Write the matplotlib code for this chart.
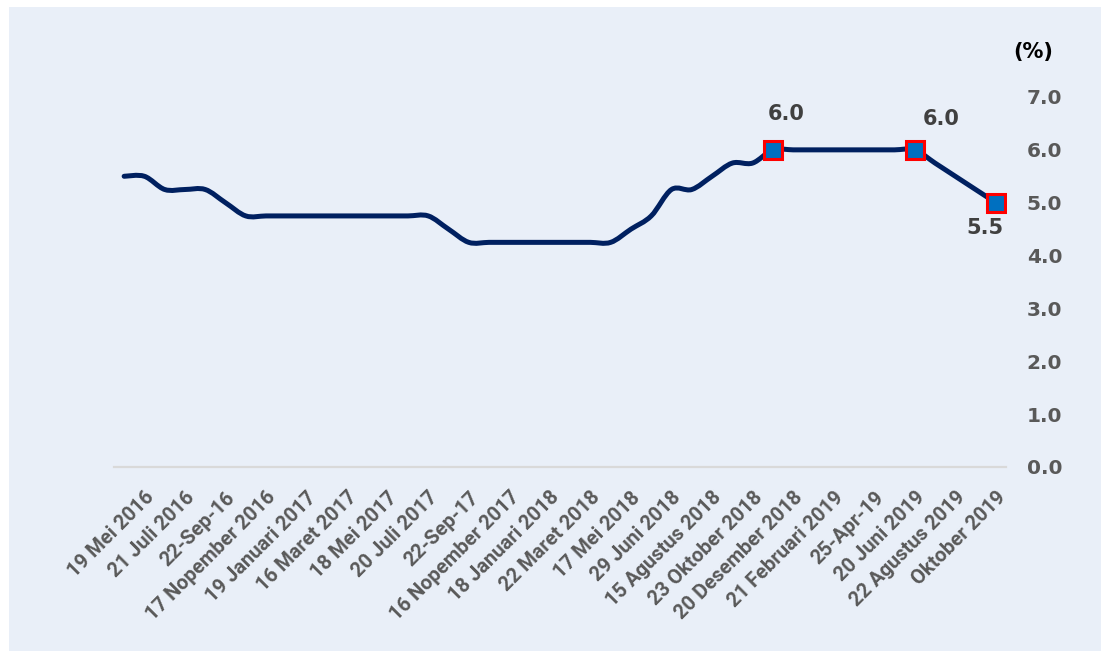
import numpy as np
import matplotlib.pyplot as plt
from matplotlib.path import Path
from matplotlib.patches import PathPatch, Rectangle

# BI 7-day reverse repo rate, one value per step on the category axis
rate = [5.50, 5.50, 5.25, 5.25, 5.25, 5.00, 4.75,
        4.75, 4.75, 4.75, 4.75, 4.75, 4.75, 4.75, 4.75, 4.75,
        4.50, 4.25,
        4.25, 4.25, 4.25, 4.25, 4.25, 4.25, 4.25,
        4.50, 4.75, 5.25, 5.25, 5.50, 5.75, 5.75,
        6.00, 6.00, 6.00, 6.00, 6.00, 6.00, 6.00, 6.00,
        5.75, 5.50, 5.25, 5.00]

# labels shown on every second category
tick_labels = ['19 Mei 2016', '21 Juli 2016', '22-Sep-16', '17 Nopember 2016',
               '19 Januari 2017', '16 Maret 2017', '18 Mei 2017', '20 Juli 2017',
               '22-Sep-17', '16 Nopember 2017', '18 Januari 2018', '22 Maret 2018',
               '17 Mei 2018', '29 Juni 2018', '15 Agustus 2018', '23 Oktober 2018',
               '20 Desember 2018', '21 Februari 2019', '25-Apr-19', '20 Juni 2019',
               '22 Agustus 2019', 'Oktober 2019']

# highlighted points and their callouts
highlight_idx = [32, 39, 43]
highlight_text = ['6.0', '6.0', '5.5']

W, H = 1109, 651
fig = plt.figure(figsize=(W / 100, H / 100), dpi=100, facecolor='white')
fig.patches.append(Rectangle((9 / W, 0), (1101 - 9) / W, (651 - 7) / H,
                             transform=fig.transFigure, facecolor='#E9EFF8',
                             edgecolor='none', zorder=-5))

ax = fig.add_axes([114 / W, (H - 467) / H, (1006 - 114) / W, (467 - 97) / H])
ax.set_facecolor('none')

# smooth line through the points (Catmull-Rom style bezier)
pts = np.column_stack([np.arange(len(rate)), np.array(rate)])
n = len(pts)
verts = [pts[0]]
codes = [Path.MOVETO]
for i in range(n - 1):
    p0 = pts[max(i - 1, 0)]
    p1 = pts[i]
    p2 = pts[i + 1]
    p3 = pts[min(i + 2, n - 1)]
    verts += [p1 + (p2 - p0) / 6, p2 - (p3 - p1) / 6, p2]
    codes += [Path.CURVE4] * 3
ax.add_patch(PathPatch(Path(verts, codes), facecolor='none', edgecolor='#002060',
                       lw=3.6, capstyle='round', joinstyle='round', zorder=3))

hx = [pts[i, 0] for i in highlight_idx]
hy = [pts[i, 1] for i in highlight_idx]
ax.plot(hx, hy, linestyle='none', marker='s', markersize=12.5,
        markerfacecolor='#0070C0', markeredgecolor='#FF0000', markeredgewidth=2.2,
        zorder=4)

offsets = [(13, 36), (26, 31), (-11, -25)]
for x, y, txt, off in zip(hx, hy, highlight_text, offsets):
    ax.annotate(txt, (x, y), xytext=off, textcoords='offset pixels',
                ha='center', va='center', fontsize=15, fontweight='bold',
                color='#404040', family='DejaVu Sans')

ax.set_xlim(-0.5, n - 0.5)
ax.set_ylim(0, 7)

ax.set_xticks(np.arange(1, n, 2))
ax.set_xticklabels(tick_labels, rotation=45, ha='right', va='top',
                   rotation_mode='anchor', fontsize=14.5, fontweight='bold',
                   color='#595959', family='Roboto')
ax.tick_params(axis='x', length=0, pad=15)

ax.yaxis.tick_right()
ax.set_yticks(range(8))
ax.set_yticklabels([f'{v:.1f}' for v in range(8)], fontsize=14.5,
                   fontweight='bold', color='#595959', family='DejaVu Sans')
ax.tick_params(axis='y', length=0, pad=15)

for side in ['top', 'left', 'right']:
    ax.spines[side].set_visible(False)
ax.spines['bottom'].set_color('#D9D9D9')
ax.spines['bottom'].set_linewidth(1.6)

fig.text(1033 / W, 1 - 52 / H, '(%)', ha='center', va='center',
         fontsize=15, fontweight='bold', color='black', family='DejaVu Sans')

fig.savefig('out.png', dpi=100)
